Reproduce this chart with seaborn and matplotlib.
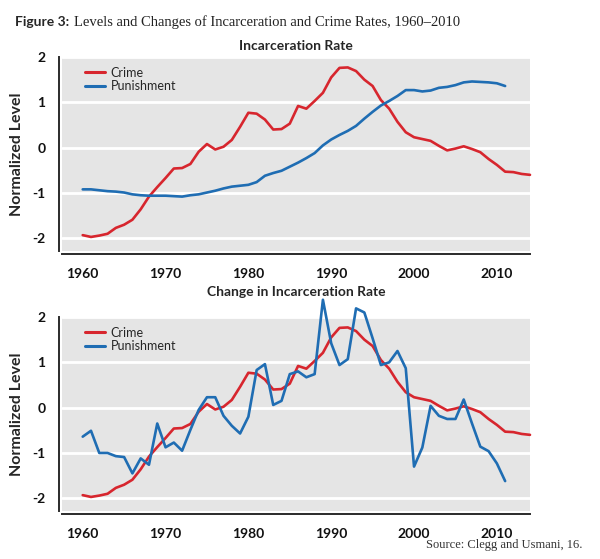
import numpy as np
import pandas as pd
import matplotlib
matplotlib.use("Agg")
import matplotlib.pyplot as plt
import seaborn as sns

# ---------------- data ----------------
years_crime = list(range(1960, 2015))
crime = [-1.93, -1.97, -1.94, -1.90, -1.77, -1.70, -1.59, -1.36, -1.08, -0.87,
         -0.67, -0.46, -0.45, -0.36, -0.09, 0.08, -0.04, 0.02, 0.17, 0.46,
         0.77, 0.75, 0.62, 0.40, 0.41, 0.53, 0.92, 0.86, 1.03, 1.21,
         1.55, 1.76, 1.77, 1.69, 1.50, 1.36, 1.05, 0.86, 0.57, 0.34,
         0.23, 0.19, 0.15, 0.04, -0.06, -0.02, 0.03, -0.03, -0.10, -0.25,
         -0.38, -0.53, -0.54, -0.58, -0.60]

years_pun = list(range(1960, 2012))
punish_level = [-0.92, -0.92, -0.94, -0.96, -0.97, -0.99, -1.03, -1.05, -1.06, -1.06,
                -1.06, -1.07, -1.08, -1.05, -1.03, -0.99, -0.95, -0.90, -0.86, -0.84,
                -0.82, -0.76, -0.62, -0.56, -0.51, -0.42, -0.33, -0.23, -0.12, 0.05,
                0.18, 0.28, 0.37, 0.48, 0.64, 0.79, 0.93, 1.03, 1.14, 1.27,
                1.27, 1.24, 1.26, 1.32, 1.34, 1.38, 1.44, 1.46, 1.45, 1.44,
                1.42, 1.36]
punish_change = [-0.64, -0.51, -1.00, -1.00, -1.07, -1.09, -1.45, -1.12, -1.26, -0.35,
                 -0.875, -0.77, -0.95, -0.49, -0.05, 0.23, 0.23, -0.18, -0.40, -0.57,
                 -0.20, 0.83, 0.96, 0.06, 0.15, 0.74, 0.80, 0.67, 0.74, 2.38,
                 1.42, 0.94, 1.07, 2.19, 2.10, 1.53, 0.94, 1.00, 1.25, 0.87,
                 -1.30, -0.88, 0.04, -0.18, -0.25, -0.25, 0.18, -0.35, -0.86, -0.96,
                 -1.23, -1.62]

series_names = ["Crime", "Punishment"]
panel_titles = ["Incarceration Rate", "Change in Incarceration Rate"]
x_ticks = [1960, 1970, 1980, 1990, 2000, 2010]
y_ticks = [-2, -1, 0, 1, 2]
fig_title_bold = "Figure 3:"
fig_title_rest = "Levels and Changes of Incarceration and Crime Rates, 1960\u20132010"
source_text = "Source: Clegg and Usmani, 16."
y_label = "Normalized Level"

# ---------------- style ----------------
sns.set_style("white")
SANS = ["Lato", "DejaVu Sans"]
SERIF = ["Liberation Serif", "DejaVu Serif"]
plt.rcParams["font.family"] = SANS
plt.rcParams["axes.unicode_minus"] = False

RED = "#d7262e"
BLUE = "#1f6db3"
GRAYBG = "#e5e5e5"
DARK = "#2b2b2b"
palette = {"Crime": RED, "Punishment": BLUE}

fig = plt.figure(figsize=(6.0, 5.59), dpi=100)
W, H = 600, 559

def ax_rect(left, top, right, bottom):
    return [left / W, 1 - bottom / H, (right - left) / W, (bottom - top) / H]

ax1 = fig.add_axes(ax_rect(62, 57, 530, 251))
ax2 = fig.add_axes(ax_rect(62, 317, 530, 511))

def make_df(pun):
    d1 = pd.DataFrame({"year": years_crime, "value": crime, "series": series_names[0]})
    d2 = pd.DataFrame({"year": years_pun, "value": pun, "series": series_names[1]})
    return pd.concat([d1, d2], ignore_index=True)

for ax, pun, title, tpad in [(ax1, punish_level, panel_titles[0], 5),
                             (ax2, punish_change, panel_titles[1], 15)]:
    ax.set_facecolor(GRAYBG)
    df = make_df(pun)
    sns.lineplot(data=df, x="year", y="value", hue="series", palette=palette,
                 hue_order=series_names, ax=ax, linewidth=1.9, legend=True,
                 estimator=None, sort=True)
    for ln in ax.lines:
        ln.set_clip_on(False)
        ln.set_solid_joinstyle("round")
    ax.set_xlim(1957.5, 2014)
    ax.set_ylim(-2.28, 2)
    ax.set_xticks(x_ticks)
    ax.set_yticks(y_ticks)
    ax.set_yticklabels([str(t) for t in y_ticks])
    ax.grid(axis="y", color="white", linewidth=2)
    ax.grid(axis="x", visible=False)
    ax.set_axisbelow(True)
    for s in ["top", "right"]:
        ax.spines[s].set_visible(False)
    for s in ["left", "bottom"]:
        ax.spines[s].set_position(("outward", 2))
        ax.spines[s].set_color(DARK)
        ax.spines[s].set_linewidth(1.4)
    ax.tick_params(axis="both", direction="out", length=7.5, width=1.3, color=DARK,
                   labelsize=10, labelcolor="#111111", pad=2.5)
    for lab in ax.get_xticklabels() + ax.get_yticklabels():
        lab.set_fontweight("bold")
    ax.set_xlabel("")
    ax.set_ylabel(y_label, fontsize=11.5, fontweight="bold", labelpad=6)
    ax.set_title(title, fontsize=10, fontweight="bold", pad=tpad)
    leg = ax.legend(loc="upper left", bbox_to_anchor=(0.05, 0.95), frameon=False,
                    handlelength=1.6, handletextpad=0.4, labelspacing=0.12,
                    borderpad=0, borderaxespad=0, fontsize=9)
    for h in leg.legend_handles:
        h.set_linewidth(2.2)

# figure title: bold sans part + serif part
t1 = fig.text(15 / W, 1 - 22 / H, fig_title_bold, fontsize=10, fontweight="bold",
              family=SANS, va="center", ha="left")
fig.canvas.draw()
r = fig.canvas.get_renderer()
bb = t1.get_window_extent(r)
t2 = fig.text((bb.x1 + 5) / W, 1 - 22 / H, fig_title_rest, fontsize=10.5,
              family=SERIF, va="center", ha="left", color="#222222")

fig.text(582 / W, 1 - 545 / H, source_text, fontsize=9, family=SERIF,
         ha="right", va="center", color="#333333")

fig.savefig("out.png", dpi=100)
